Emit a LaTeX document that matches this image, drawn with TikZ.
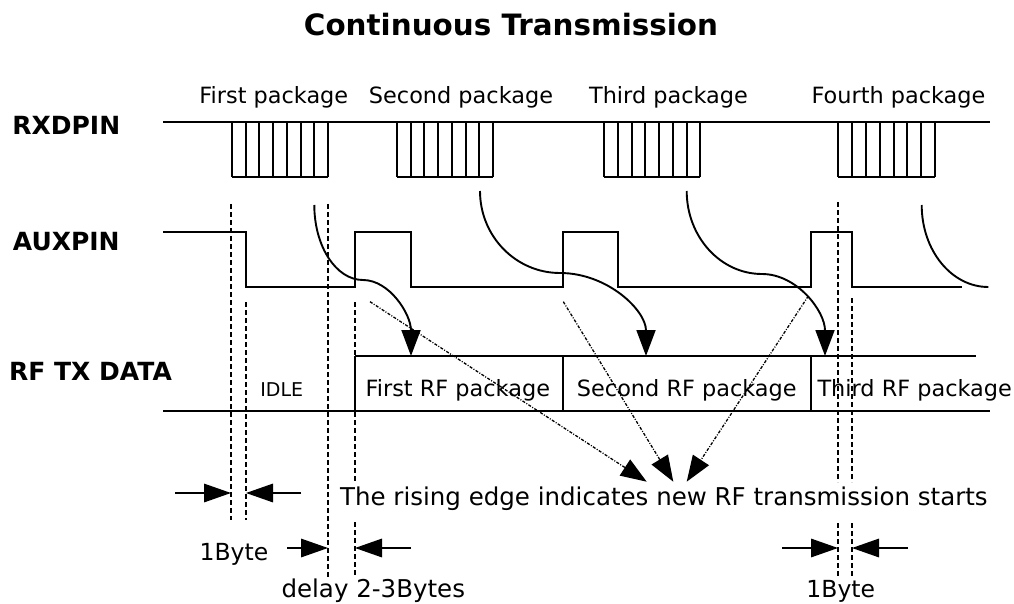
\documentclass[tikz,border=0pt]{standalone}
\usepackage{fontspec}
\setmainfont{DejaVu Sans}
\usetikzlibrary{arrows.meta}
\begin{document}
\begin{tikzpicture}[x=1pt,y=-1pt,
  sig/.style={line width=1.9pt},
  cell/.style={line width=1.8pt},
  guide/.style={line width=1.3pt, dash pattern=on 5pt off 3pt},
  pointer/.style={line width=1.3pt, dash pattern=on 3pt off 1.5pt on 1pt off 1.5pt, -{Triangle[length=26pt,width=19pt]}},
  bigtip/.style={line width=1.9pt, -{Triangle[length=26pt,width=19pt]}},
  dimarrow/.style={line width=1.6pt, -{Triangle[length=27pt,width=18.5pt]}},
  lbl/.style={inner sep=0pt, anchor=base},
  ttl/.style={lbl, font=\bfseries\fontsize{29.4pt}{34pt}\selectfont},
  pin/.style={lbl, font=\bfseries\fontsize{25pt}{30pt}\selectfont},
  pk/.style={lbl, font=\fontsize{22.4pt}{26pt}\selectfont},
  idle/.style={lbl, font=\fontsize{19pt}{22pt}\selectfont},
  note/.style={lbl, font=\fontsize{24.5pt}{28pt}\selectfont},
  byte/.style={lbl, font=\fontsize{23.5pt}{28pt}\selectfont},
]
\useasboundingbox (0,0) rectangle (1014,604);

% titles and labels
\node[ttl] (title) at (511,36) {Continuous Transmission};
\node[pin] (rxd) at (66.3,135) {RXDPIN};
\node[pin] (aux) at (66.3,250) {AUXPIN};
\node[pin] (rftx) at (90.5,380) {RF TX DATA};

\node[pk] (l1) at (273.8,104) {First package};
\node[pk] (l2) at (461,104) {Second package};
\node[pk] (l3) at (668.5,104) {Third package};
\node[pk] (l4) at (898.5,104) {Fourth package};

% RXDPIN line and packets
\draw[sig] (163,122) -- (990,122);
\draw[cell] (232,177) -- (328,177);
\draw[cell] (397,177) -- (493,177);
\draw[cell] (604,177) -- (700,177);
\draw[cell] (838,177) -- (935,177);
\foreach \xx in {232,246,259,273,287,301,314,328,
                 397,411,424,438,452,466,479,493,
                 604,618,632,645,659,673,687,700,
                 838,852,866,880,894,907,921,935}
  \draw[cell] (\xx,122) -- (\xx,177);

% AUXPIN signal
\draw[sig] (163,232) -- (246,232) -- (246,287) -- (355,287) -- (355,232)
  -- (411,232) -- (411,287) -- (563,287) -- (563,232) -- (618,232)
  -- (618,287) -- (811,287) -- (811,232) -- (852,232) -- (852,287) -- (962,287);

% RF TX DATA
\draw[sig] (355,356) -- (976,356);
\draw[sig] (163,411) -- (990,411);
\foreach \vx in {355,563,811} \draw[sig] (\vx,356) -- (\vx,411);

\node[idle] (idle) at (281.7,396) {IDLE};
\node[pk] (rf1) at (457.8,396) {First RF package};
\node[pk] (rf2) at (686.8,396) {Second RF package};
\node[pk] (rf3) at (914.7,396) {Third RF package};

% dashed guide lines
\draw[guide] (231,204) -- (231,520);
\draw[guide] (246,302) -- (246,520);
\draw[guide] (328,204) -- (328,577);
\draw[guide] (355,302) -- (355,355);
\draw[guide] (355,412) -- (355,482);
\draw[guide] (355,522) -- (355,577);
\draw[guide] (838,202) -- (838,482);
\draw[guide] (838,523) -- (838,577);
\draw[guide] (852,298) -- (852,482);
\draw[guide] (852,523) -- (852,577);

% curved arrows from packet end to RF package
\coordinate (c1s) at (314.3,205); \coordinate (c1m) at (363,280); \coordinate (c1e) at (411,356);
\draw[bigtip] (c1s) .. controls +(0,41.4) and +(-26.9,0) .. (c1m) .. controls +(26.5,0) and +(0,-41.8) .. (c1e);
\coordinate (c2s) at (480,191); \coordinate (c2m) at (560,273); \coordinate (c2e) at (646,356);
\draw[bigtip] (c2s) .. controls +(0,45.3) and +(-44.2,0) .. (c2m) .. controls +(47.5,0) and +(0,-45.7) .. (c2e);
\coordinate (c3s) at (686.7,191); \coordinate (c3m) at (762,274); \coordinate (c3e) at (825,356);
\draw[bigtip] (c3s) .. controls +(0,45.8) and +(-41.6,0) .. (c3m) .. controls +(34.8,0) and +(0,-45.1) .. (c3e);
\coordinate (c4s) at (921.7,205); \coordinate (c4e) at (988.3,287);
\draw[sig] (c4s) .. controls +(0,45.5) and +(-36.8,0) .. (c4e);

% note and pointers
\node[note] (rise) at (663.9,505) {The rising edge indicates new RF transmission starts};
\coordinate (a1s) at (370,301.7); \coordinate (a1e) at (646.7,481.7);
\coordinate (a2s) at (563.3,301.7); \coordinate (a2e) at (673.3,481.7);
\coordinate (a3s) at (808.3,296); \coordinate (a3e) at (686.7,481.7);
\draw[pointer] (a1s) -- (a1e);
\draw[pointer] (a2s) -- (a2e);
\draw[pointer] (a3s) -- (a3e);

% dimension arrows
\coordinate (d1a) at (175,493); \coordinate (d1b) at (231,493);
\coordinate (d1c) at (301,493); \coordinate (d1d) at (246,493);
\draw[dimarrow] (d1a) -- (d1b);
\draw[dimarrow] (d1c) -- (d1d);
\coordinate (d2a) at (287,548); \coordinate (d2b) at (328,548);
\coordinate (d2c) at (411,548); \coordinate (d2d) at (355,548);
\draw[dimarrow] (d2a) -- (d2b);
\draw[dimarrow] (d2c) -- (d2d);
\coordinate (d3a) at (782,548); \coordinate (d3b) at (838,548);
\coordinate (d3c) at (908,548); \coordinate (d3d) at (852,548);
\draw[dimarrow] (d3a) -- (d3b);
\draw[dimarrow] (d3c) -- (d3d);

\node[byte] (b1) at (234,560.7) {1Byte};
\node[note] (dl) at (373.3,597.5) {delay 2-3Bytes};
\node[byte] (b2) at (840.8,597.5) {1Byte};
\end{tikzpicture}
\end{document}
